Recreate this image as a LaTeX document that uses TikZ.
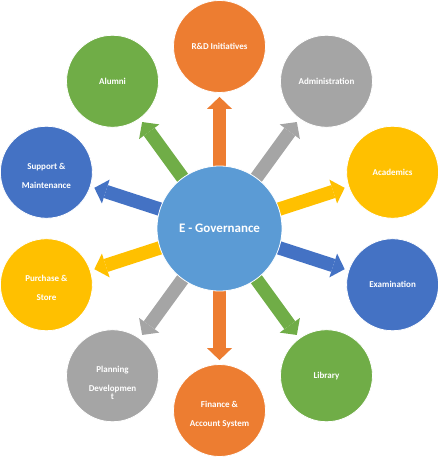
\documentclass[tikz,border=0pt]{standalone}
\usepackage{fontspec}
\setmainfont{Carlito}
\usetikzlibrary{arrows.meta,backgrounds}
\definecolor{cOr}{HTML}{ED7D31}
\definecolor{cGr}{HTML}{A5A5A5}
\definecolor{cYe}{HTML}{FFC000}
\definecolor{cBl}{HTML}{4472C4}
\definecolor{cGn}{HTML}{70AD47}
\definecolor{cLb}{HTML}{5B9BD5}
\begin{document}
\begin{tikzpicture}[x=1pt,y=1pt,
  outer/.style={circle, minimum size=92pt, inner sep=0pt, draw=white, line width=0.8pt},
  hub/.style={circle, minimum size=125pt, inner sep=0pt, draw=white, line width=0.8pt, fill=cLb},
  lbl/.style={anchor=base, text=white, inner sep=0pt, font=\bfseries\fontsize{9}{9}\selectfont},
  hublbl/.style={anchor=base, text=white, inner sep=0pt, font=\bfseries\fontsize{13}{13}\selectfont},
  conn/.style={line width=13.5pt, -{Triangle[width=25pt,length=12pt,line width=0pt]}, shorten >=4pt}]
\path[use as bounding box] (-219.5pt,228.5pt) rectangle (218.5pt,-228.5pt);
% hub
\node[hub] (cc) at (0,0) {};
\node[hublbl] (cc-t) at ([yshift=-4.2pt]cc.center) {E - Governance};
% outer circles
\node[outer, fill=cOr] (rd)  at (90:182pt) {};
\node[outer, fill=cGr] (adm) at (54:182pt) {};
\node[outer, fill=cYe] (aca) at (18:182pt) {};
\node[outer, fill=cBl] (exa) at (-18:182pt) {};
\node[outer, fill=cGn] (lib) at (-54:182pt) {};
\node[outer, fill=cOr] (fin) at (-90:182pt) {};
\node[outer, fill=cGr] (pla) at (-126:182pt) {};
\node[outer, fill=cYe] (pur) at (-162:182pt) {};
\node[outer, fill=cBl] (sup) at (162:182pt) {};
\node[outer, fill=cGn] (alu) at (126:182pt) {};
% labels
\node[lbl] (rd-t)  at ([yshift=-3pt]rd.center) {R\&D Initiatives};
\node[lbl] (adm-t) at ([yshift=-3pt]adm.center) {Administration};
\node[lbl] (aca-t) at ([yshift=-3pt]aca.center) {Academics};
\node[lbl] (exa-t) at ([yshift=-3pt]exa.center) {Examination};
\node[lbl] (lib-t) at ([yshift=-3pt]lib.center) {Library};
\node[lbl] (alu-t) at ([yshift=-3pt]alu.center) {Alumni};
\node[lbl] (fin-t1) at ([yshift=3pt]fin.center) {Finance \&};
\node[lbl] (fin-t2) at ([yshift=-16pt]fin.center) {Account System};
\node[lbl] (pur-t1) at ([yshift=3pt]pur.center) {Purchase \&};
\node[lbl] (pur-t2) at ([yshift=-16pt]pur.center) {Store};
\node[lbl] (sup-t1) at ([yshift=3pt]sup.center) {Support \&};
\node[lbl] (sup-t2) at ([yshift=-16pt]sup.center) {Maintenance};
\node[lbl] (pla-t1) at ([yshift=3pt]pla.center) {Planning};
\node[lbl] (pla-t2) at ([yshift=-15.7pt]pla.center) {Developmen};
\node[lbl] (pla-t3) at ([yshift=-24.2pt]pla.center) {t};
% connectors
\begin{scope}[on background layer]
\draw[conn, cOr] (cc.center) -- (rd);
\draw[conn, cGr] (cc.center) -- (adm);
\draw[conn, cYe] (cc.center) -- (aca);
\draw[conn, cBl] (cc.center) -- (exa);
\draw[conn, cGn] (cc.center) -- (lib);
\draw[conn, cOr] (cc.center) -- (fin);
\draw[conn, cGr] (cc.center) -- (pla);
\draw[conn, cYe] (cc.center) -- (pur);
\draw[conn, cBl] (cc.center) -- (sup);
\draw[conn, cGn] (cc.center) -- (alu);
\end{scope}
\end{tikzpicture}
\end{document}
